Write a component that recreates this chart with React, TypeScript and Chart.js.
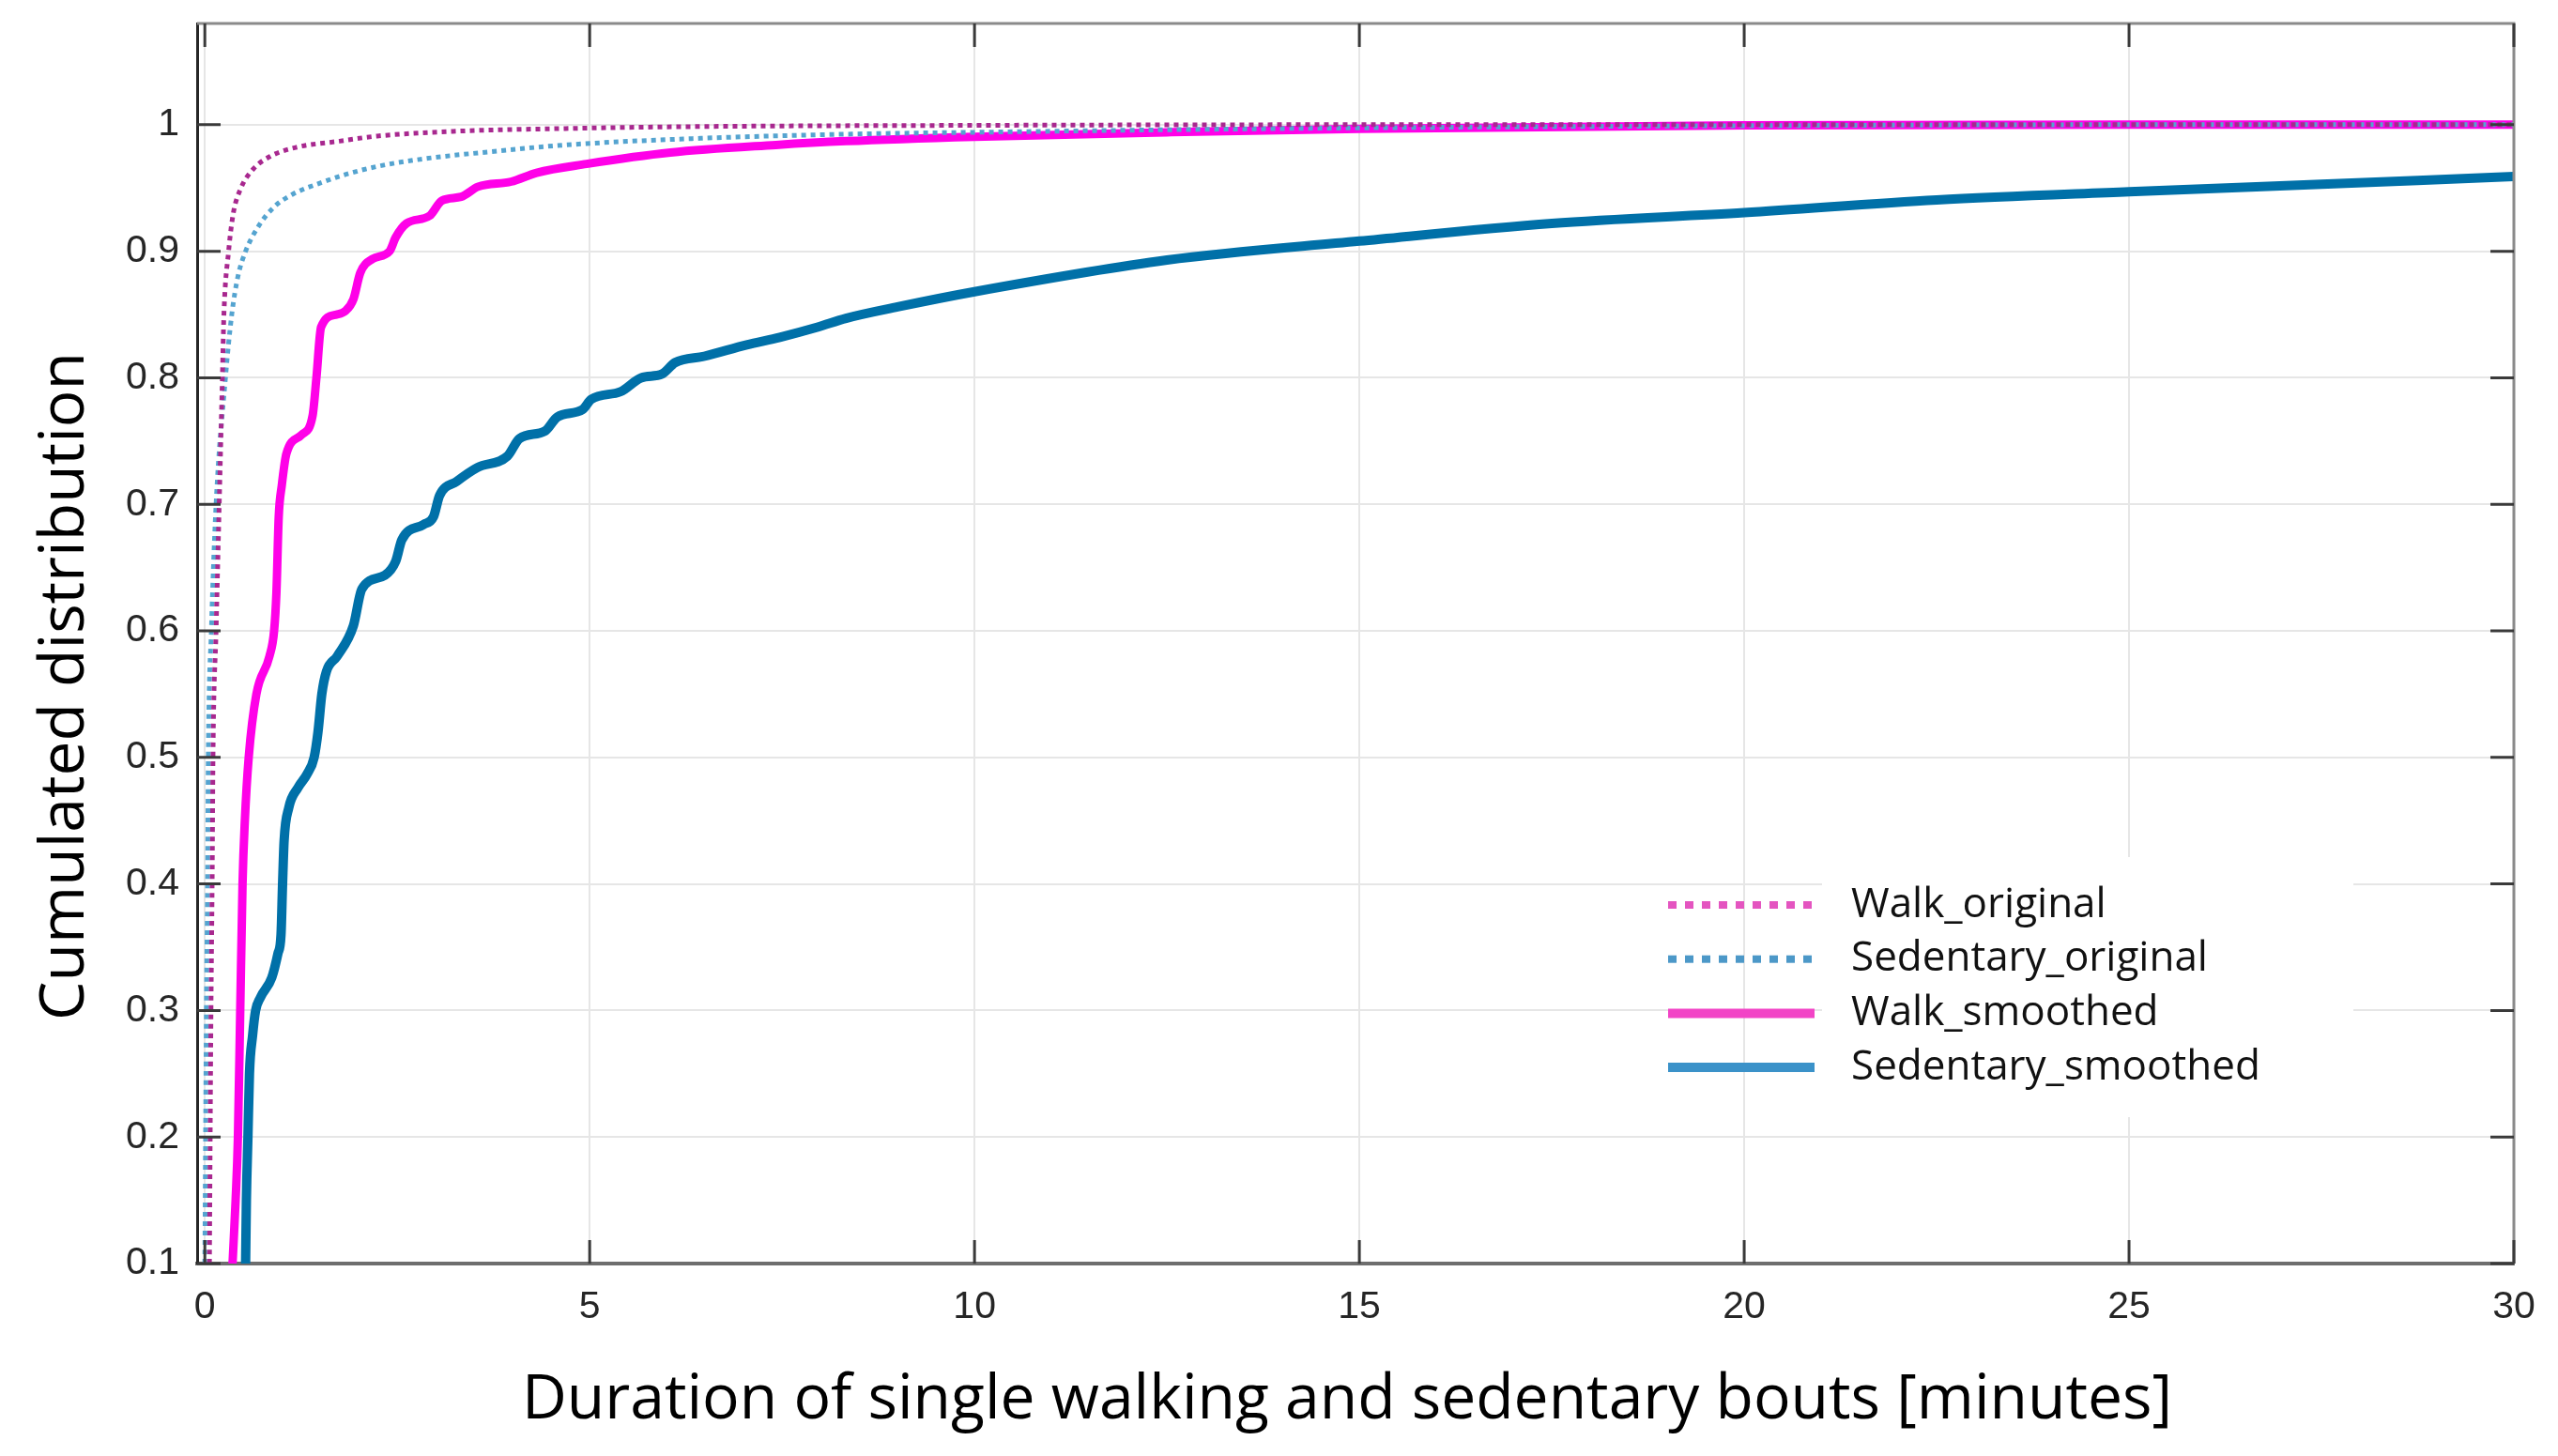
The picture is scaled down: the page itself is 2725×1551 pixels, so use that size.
import React, { useEffect, useRef } from 'react';
import { Chart, registerables } from 'chart.js';

Chart.register(...registerables);

// ---------------- data ----------------
const xTickValues = [0, 5, 10, 15, 20, 25, 30];
const xTickLabels = ['0', '5', '10', '15', '20', '25', '30'];
const yTickValues = [0.1, 0.2, 0.3, 0.4, 0.5, 0.6, 0.7, 0.8, 0.9, 1.0];
const yTickLabels = ['0.1', '0.2', '0.3', '0.4', '0.5', '0.6', '0.7', '0.8', '0.9', '1'];

const seriesLabels = ['Walk_original', 'Sedentary_original', 'Walk_smoothed', 'Sedentary_smoothed'];

const walkOriginalX = [0.06, 0.08, 0.095, 0.106, 0.146, 0.187, 0.228, 0.248, 0.309, 0.37, 0.47, 0.63, 0.85, 1.18, 1.75, 2.24, 3.33, 4.69, 6.33, 10, 15, 30];
const walkOriginalY = [0.10, 0.30, 0.40, 0.50, 0.60, 0.70, 0.80, 0.85, 0.90, 0.93, 0.95, 0.965, 0.975, 0.982, 0.987, 0.991, 0.995, 0.997, 0.9985, 0.9995, 1.0, 1.0];

const sedOriginalX = [0.0, 0.02, 0.035, 0.045, 0.085, 0.146, 0.268, 0.35, 0.43, 0.53, 0.70, 0.90, 1.14, 1.55, 1.79, 2.24, 2.84, 3.6, 4.69, 6.33, 8.33, 10, 12.5, 15, 20, 25, 30];
const sedOriginalY = [0.10, 0.30, 0.40, 0.50, 0.60, 0.70, 0.80, 0.85, 0.88, 0.90, 0.92, 0.935, 0.945, 0.955, 0.96, 0.967, 0.973, 0.978, 0.984, 0.989, 0.9925, 0.994, 0.996, 0.9975, 0.9992, 1.0, 1.0];

const walkSmoothedX = [0.36, 0.40, 0.43, 0.46, 0.49, 0.52, 0.57, 0.67, 0.84, 0.90, 0.93, 0.96, 1.00, 1.06, 1.26, 1.40, 1.45, 1.51, 1.71, 1.83, 1.93, 2.02, 2.18, 2.40, 2.48, 2.62, 2.92, 3.08, 3.33, 3.55, 3.98, 4.31, 4.96, 6.05, 7.42, 8.33, 10, 12.5, 15, 20, 25, 30];
const walkSmoothedY = [0.10, 0.15, 0.20, 0.30, 0.40, 0.45, 0.50, 0.55, 0.58, 0.60, 0.63, 0.69, 0.715, 0.74, 0.755, 0.77, 0.80, 0.84, 0.85, 0.853, 0.862, 0.883, 0.894, 0.90, 0.911, 0.922, 0.928, 0.94, 0.943, 0.951, 0.955, 0.962, 0.969, 0.978, 0.984, 0.987, 0.9905, 0.994, 0.9968, 0.9995, 1.0, 1.0];

const sedSmoothedX = [0.53, 0.54, 0.56, 0.58, 0.62, 0.66, 0.72, 0.87, 0.95, 0.99, 1.01, 1.03, 1.09, 1.21, 1.33, 1.42, 1.47, 1.52, 1.58, 1.72, 1.93, 2.04, 2.34, 2.48, 2.56, 2.84, 2.97, 3.05, 3.27, 3.54, 3.93, 4.09, 4.42, 4.58, 4.91, 5.02, 5.40, 5.67, 5.94, 6.11, 6.49, 7.04, 7.47, 7.96, 8.33, 9.0, 10, 12.5, 15, 17.5, 20, 22.5, 25, 27.5, 30];
const sedSmoothedY = [0.10, 0.15, 0.20, 0.25, 0.28, 0.30, 0.31, 0.326, 0.345, 0.36, 0.40, 0.434, 0.46, 0.476, 0.487, 0.50, 0.52, 0.55, 0.568, 0.58, 0.604, 0.633, 0.644, 0.655, 0.672, 0.684, 0.69, 0.707, 0.718, 0.729, 0.738, 0.752, 0.758, 0.769, 0.775, 0.783, 0.789, 0.80, 0.803, 0.812, 0.817, 0.826, 0.832, 0.84, 0.847, 0.856, 0.868, 0.893, 0.908, 0.922, 0.9305, 0.9405, 0.947, 0.953, 0.959];

// ---------------- styles ----------------
const W = 2725;
const H = 1551;
const FONT_TEXT = '"Open Sans", "Noto Sans", sans-serif';
const FONT_TICK = '"Liberation Sans", Arial, sans-serif';
const lineColors = ['#a8288f', '#55a4d0', '#ff00e8', '#0070a8'];
const legendColors = ['#e455c0', '#4c98c8', '#f244c6', '#3b92c9'];
const yTitle = 'Cumulated distribution';
const xTitle = 'Duration of single walking and sedentary bouts [minutes]';

const toPoints = (xs: number[], ys: number[]) => xs.map((x, i) => ({ x, y: ys[i] }));

const decorPlugin = {
  id: 'matlabDecor',
  afterDatasetsDraw(chart: any) {
    const { ctx, chartArea: a, scales } = chart;
    const xs = scales.x;
    const ys = scales.y;
    ctx.save();

    // legend (white box hides grid lines behind the text)
    ctx.fillStyle = '#ffffff';
    ctx.fillRect(1941, 913, 2507 - 1941, 1190 - 913);
    chart.data.datasets.forEach((ds: any, i: number) => {
      const yy = 964 + i * 57.7;
      const dotted = Array.isArray(ds.borderDash) && ds.borderDash.length > 0;
      ctx.beginPath();
      ctx.strokeStyle = legendColors[i];
      ctx.lineWidth = dotted ? 8 : 10;
      ctx.lineCap = 'butt';
      ctx.setLineDash(dotted ? [9, 9] : []);
      ctx.moveTo(1777, yy);
      ctx.lineTo(1933, yy);
      ctx.stroke();
      ctx.setLineDash([]);
      ctx.fillStyle = '#111111';
      ctx.font = `44px ${FONT_TEXT}`;
      ctx.textBaseline = 'middle';
      ctx.textAlign = 'left';
      ctx.fillText(ds.label, 1972, yy);
    });

    // top and right frame
    ctx.strokeStyle = '#8a8a8a';
    ctx.lineWidth = 3;
    ctx.beginPath();
    ctx.moveTo(a.left, a.top);
    ctx.lineTo(a.right, a.top);
    ctx.lineTo(a.right, a.bottom);
    ctx.stroke();

    // inward tick marks
    const tl = 25;
    ctx.strokeStyle = '#3a3a3a';
    ctx.lineWidth = 3;
    ctx.beginPath();
    xTickValues.forEach((v) => {
      const px = xs.getPixelForValue(v);
      ctx.moveTo(px, a.bottom);
      ctx.lineTo(px, a.bottom - tl);
      ctx.moveTo(px, a.top);
      ctx.lineTo(px, a.top + tl);
    });
    yTickValues.forEach((v) => {
      const py = ys.getPixelForValue(v);
      ctx.moveTo(a.left, py);
      ctx.lineTo(a.left + tl, py);
      ctx.moveTo(a.right, py);
      ctx.lineTo(a.right - tl, py);
    });
    ctx.stroke();
    ctx.restore();
  },
  afterDraw(chart: any) {
    const { ctx } = chart;
    ctx.save();
    ctx.fillStyle = '#000000';
    ctx.font = `66px ${FONT_TEXT}`;
    ctx.textAlign = 'center';
    // x axis title (baseline position)
    ctx.textBaseline = 'alphabetic';
    ctx.fillText(xTitle, 1435, 1511);
    // y axis title
    ctx.textBaseline = 'middle';
    ctx.translate(70, 731);
    ctx.rotate(-Math.PI / 2);
    ctx.fillText(yTitle, 0, 0);
    ctx.restore();
  },
};

export default function App() {
  const canvasRef = useRef<HTMLCanvasElement | null>(null);

  useEffect(() => {
    if (!canvasRef.current) return;
    const chart = new Chart(canvasRef.current, {
      type: 'line',
      data: {
        datasets: [
          {
            label: seriesLabels[0],
            data: toPoints(walkOriginalX, walkOriginalY),
            borderColor: lineColors[0],
            borderWidth: 5,
            borderDash: [5, 5],
            order: 0,
          },
          {
            label: seriesLabels[1],
            data: toPoints(sedOriginalX, sedOriginalY),
            borderColor: lineColors[1],
            borderWidth: 5,
            borderDash: [5, 5],
            order: 1,
          },
          {
            label: seriesLabels[2],
            data: toPoints(walkSmoothedX, walkSmoothedY),
            borderColor: lineColors[2],
            borderWidth: 9,
            order: 3,
          },
          {
            label: seriesLabels[3],
            data: toPoints(sedSmoothedX, sedSmoothedY),
            borderColor: lineColors[3],
            borderWidth: 10,
            order: 2,
          },
        ] as any,
      },
      options: {
        responsive: false,
        devicePixelRatio: 1,
        animation: false,
        parsing: false as any,
        normalized: true,
        layout: { padding: { left: 0, top: 25, right: 47, bottom: 0 } },
        elements: {
          point: { radius: 0, hoverRadius: 0 },
          line: { cubicInterpolationMode: 'monotone', fill: false, borderCapStyle: 'butt', borderJoinStyle: 'round' },
        },
        datasets: { line: { clip: 0 } as any },
        plugins: {
          legend: { display: false },
          tooltip: { enabled: false },
        },
        events: [],
        scales: {
          x: {
            type: 'linear',
            min: -0.1,
            max: 30,
            afterBuildTicks: (scale: any) => {
              scale.ticks = xTickValues.map((v) => ({ value: v }));
            },
            afterFit: (scale: any) => {
              scale.height = H - 1346;
              scale.paddingLeft = 0;
              scale.paddingRight = 0;
            },
            ticks: {
              autoSkip: false,
              maxRotation: 0,
              padding: 22,
              color: '#262626',
              font: { family: FONT_TICK, size: 41 },
              callback: (v: any) => {
                const i = xTickValues.indexOf(Number(v));
                return i >= 0 ? xTickLabels[i] : '';
              },
            },
            grid: { color: '#e6e6e6', lineWidth: 2, drawTicks: false },
            border: { display: true, color: '#6e6e6e', width: 4 },
            title: { display: false, text: xTitle },
          },
          y: {
            type: 'linear',
            min: 0.1,
            max: 1.08,
            afterBuildTicks: (scale: any) => {
              scale.ticks = yTickValues.map((v) => ({ value: v }));
            },
            afterFit: (scale: any) => {
              scale.width = 210;
              scale.paddingTop = 0;
              scale.paddingBottom = 0;
            },
            ticks: {
              autoSkip: false,
              padding: 19,
              color: '#262626',
              font: { family: FONT_TICK, size: 41 },
              callback: (v: any) => {
                const i = yTickValues.findIndex((t) => Math.abs(t - Number(v)) < 1e-6);
                return i >= 0 ? yTickLabels[i] : '';
              },
            },
            grid: { color: '#e6e6e6', lineWidth: 2, drawTicks: false },
            border: { display: true, color: '#262626', width: 3 },
            title: { display: false, text: yTitle },
          },
        },
      } as any,
      plugins: [decorPlugin],
    });
    return () => chart.destroy();
  }, []);

  return (
    <div style={{ position: 'fixed', left: 0, top: 0, width: W, height: H, background: '#ffffff' }}>
      <canvas ref={canvasRef} width={W} height={H} style={{ width: W, height: H, display: 'block' }} />
    </div>
  );
}
